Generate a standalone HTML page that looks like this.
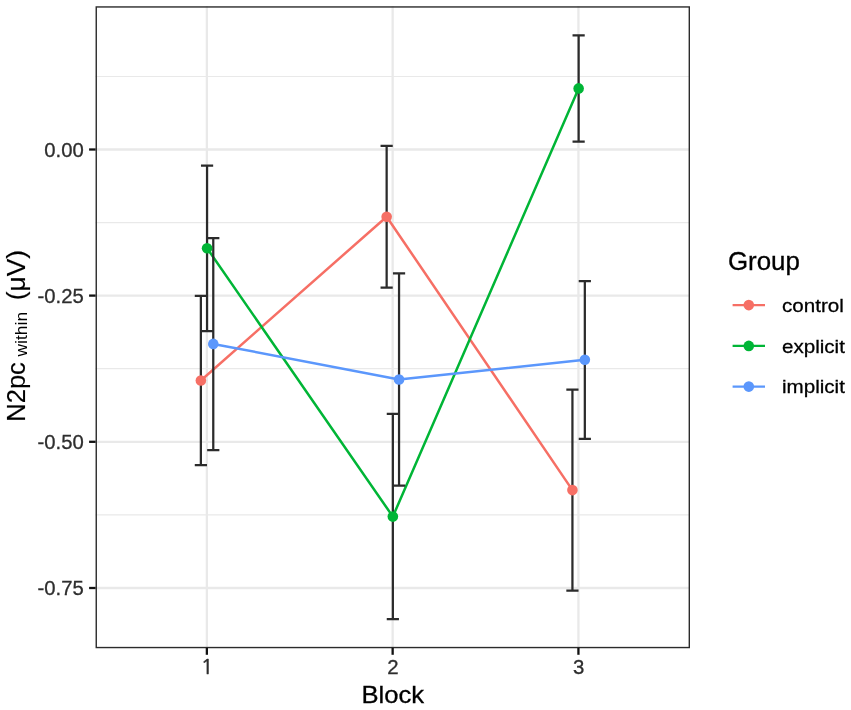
<!DOCTYPE html><html><head><meta charset="utf-8"><title>N2pc within by Block</title>
<style>html,body{margin:0;padding:0;background:#fff}svg{display:block}text{font-family:"Liberation Sans",Arial,Helvetica,sans-serif}</style></head><body>
<svg width="851" height="710" viewBox="0 0 851 710">
<rect width="851" height="710" fill="#fff"/>
<g stroke="#e9e9e9" fill="none">
<line x1="95.4" x2="689.9" y1="76.5" y2="76.5" stroke-width="1.2"/>
<line x1="95.4" x2="689.9" y1="222.55" y2="222.55" stroke-width="1.2"/>
<line x1="95.4" x2="689.9" y1="368.7" y2="368.7" stroke-width="1.2"/>
<line x1="95.4" x2="689.9" y1="514.9" y2="514.9" stroke-width="1.2"/>
<line x1="95.4" x2="689.9" y1="149.5" y2="149.5" stroke-width="2.3"/>
<line x1="95.4" x2="689.9" y1="295.6" y2="295.6" stroke-width="2.3"/>
<line x1="95.4" x2="689.9" y1="441.8" y2="441.8" stroke-width="2.3"/>
<line x1="95.4" x2="689.9" y1="588.0" y2="588.0" stroke-width="2.3"/>
<line x1="206.87" x2="206.87" y1="6.1" y2="648.1" stroke-width="2.3"/>
<line x1="392.65" x2="392.65" y1="6.1" y2="648.1" stroke-width="2.3"/>
<line x1="578.43" x2="578.43" y1="6.1" y2="648.1" stroke-width="2.3"/>
</g>
<g transform="translate(0.2 0.3)">
<polyline points="200.67,380.2 386.45,216.4 572.23,489.8" fill="none" stroke="#F66F65" stroke-width="2.5" stroke-linejoin="round"/>
<polyline points="206.87,247.9 392.65,516.3 578.43,88.1" fill="none" stroke="#00B536" stroke-width="2.5" stroke-linejoin="round"/>
<polyline points="213.07,343.6 398.85,379.2 584.63,359.5" fill="none" stroke="#5B97FC" stroke-width="2.5" stroke-linejoin="round"/>
<g stroke="#2b2b2b" stroke-width="2.25" fill="none">
<path d="M194.57 295.6H206.77M200.67 295.6V464.7M194.57 464.7H206.77"/>
<path d="M380.35 145.6H392.55M386.45 145.6V287.3M380.35 287.3H392.55"/>
<path d="M566.13 389.3H578.33M572.23 389.3V590.3M566.13 590.3H578.33"/>
<path d="M200.77 165.2H212.97M206.87 165.2V330.9M200.77 330.9H212.97"/>
<path d="M386.55 413.5H398.75M392.65 413.5V618.9M386.55 618.9H398.75"/>
<path d="M572.33 35.1H584.53M578.43 35.1V141.2M572.33 141.2H584.53"/>
<path d="M206.97 237.7H219.17M213.07 237.7V449.8M206.97 449.8H219.17"/>
<path d="M392.75 273.0H404.95M398.85 273.0V485.3M392.75 485.3H404.95"/>
<path d="M578.53 280.8H590.73M584.63 280.8V438.5M578.53 438.5H590.73"/>
</g>
<circle cx="200.67" cy="380.2" r="5.3" fill="#F66F65"/>
<circle cx="386.45" cy="216.4" r="5.3" fill="#F66F65"/>
<circle cx="572.23" cy="489.8" r="5.3" fill="#F66F65"/>
<circle cx="206.87" cy="247.9" r="5.3" fill="#00B536"/>
<circle cx="392.65" cy="516.3" r="5.3" fill="#00B536"/>
<circle cx="578.43" cy="88.1" r="5.3" fill="#00B536"/>
<circle cx="213.07" cy="343.6" r="5.3" fill="#5B97FC"/>
<circle cx="398.85" cy="379.2" r="5.3" fill="#5B97FC"/>
<circle cx="584.63" cy="359.5" r="5.3" fill="#5B97FC"/>
</g>
<rect x="96.25" y="6.95" width="593.05" height="640.6" fill="none" stroke="#2b2b2b" stroke-width="1.4"/>
<g stroke="#111" stroke-width="2.3">
<line x1="89.10000000000001" x2="95.60000000000001" y1="149.5" y2="149.5"/>
<line x1="89.10000000000001" x2="95.60000000000001" y1="295.6" y2="295.6"/>
<line x1="89.10000000000001" x2="95.60000000000001" y1="441.8" y2="441.8"/>
<line x1="89.10000000000001" x2="95.60000000000001" y1="588.0" y2="588.0"/>
<line x1="206.87" x2="206.87" y1="647.9" y2="654.8000000000001"/>
<line x1="392.65" x2="392.65" y1="647.9" y2="654.8000000000001"/>
<line x1="578.43" x2="578.43" y1="647.9" y2="654.8000000000001"/>
</g>
<text transform="translate(83.8 156.8) scale(1.015 1.03)" font-size="20" text-anchor="end" fill="#2e2e2e" stroke="#2e2e2e" stroke-width="0.3">0.00</text>
<text transform="translate(83.8 302.9) scale(1.015 1.03)" font-size="20" text-anchor="end" fill="#2e2e2e" stroke="#2e2e2e" stroke-width="0.3">-0.25</text>
<text transform="translate(83.8 449.1) scale(1.015 1.03)" font-size="20" text-anchor="end" fill="#2e2e2e" stroke="#2e2e2e" stroke-width="0.3">-0.50</text>
<text transform="translate(83.8 595.3) scale(1.015 1.03)" font-size="20" text-anchor="end" fill="#2e2e2e" stroke="#2e2e2e" stroke-width="0.3">-0.75</text>
<text transform="translate(207.02 674.45) scale(1.03 0.965)" font-size="20" text-anchor="middle" fill="#2e2e2e" stroke="#2e2e2e" stroke-width="0.55" style="font-family:NanumGothic,'Liberation Sans',sans-serif">1</text>
<text transform="translate(392.9 674.3) scale(1.02 1.035)" font-size="20" text-anchor="middle" fill="#2e2e2e" stroke="#2e2e2e" stroke-width="0.3">2</text>
<text transform="translate(578.68 674.3) scale(1.02 1.035)" font-size="20" text-anchor="middle" fill="#2e2e2e" stroke="#2e2e2e" stroke-width="0.3">3</text>
<text transform="translate(392.8 703.1) scale(1.025 0.99)" font-size="25" text-anchor="middle" fill="#000" stroke="#000" stroke-width="0.3">Block</text>
<text transform="translate(24.7 421.7) rotate(-90) scale(1.02 1)" font-size="25" text-anchor="start" fill="#000" stroke="#000" stroke-width="0.15">N2pc</text>
<text transform="translate(27 356.5) rotate(-90) scale(1.045 1)" font-size="16.7" text-anchor="start" fill="#000">within</text>
<text transform="translate(24.7 300.3) rotate(-90) scale(1.055 1)" font-size="25" text-anchor="start" fill="#000" stroke="#000" stroke-width="0.15">(μV)</text>
<text transform="translate(727.95 269.8) scale(1.0355 1)" font-size="25" text-anchor="start" fill="#000" stroke="#000" stroke-width="0.3">Group</text>
<line x1="732.6" x2="765" y1="305.1" y2="305.1" stroke="#F66F65" stroke-width="2.2"/>
<circle cx="748.8" cy="305.1" r="5.3" fill="#F66F65"/>
<text transform="translate(782.0 312.3) scale(1.03 0.95)" font-size="20" text-anchor="start" fill="#000" stroke="#000" stroke-width="0.3">control</text>
<line x1="732.6" x2="765" y1="345.9" y2="345.9" stroke="#00B536" stroke-width="2.2"/>
<circle cx="748.8" cy="345.9" r="5.3" fill="#00B536"/>
<text transform="translate(782.0 353.1) scale(1.03 0.95)" font-size="20" text-anchor="start" fill="#000" stroke="#000" stroke-width="0.3">explicit</text>
<line x1="732.6" x2="765" y1="386.6" y2="386.6" stroke="#5B97FC" stroke-width="2.2"/>
<circle cx="748.8" cy="386.6" r="5.3" fill="#5B97FC"/>
<text transform="translate(782.0 393.3) scale(1.03 0.95)" font-size="20" text-anchor="start" fill="#000" stroke="#000" stroke-width="0.3">implicit</text>
</svg></body></html>
